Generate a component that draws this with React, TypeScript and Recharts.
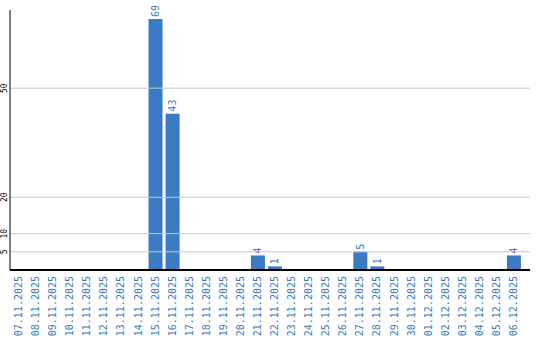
import { BarChart, Bar, XAxis, YAxis, ReferenceLine, LabelList } from "recharts";

const dates = [
  "07.11.2025", "08.11.2025", "09.11.2025", "10.11.2025", "11.11.2025",
  "12.11.2025", "13.11.2025", "14.11.2025", "15.11.2025", "16.11.2025",
  "17.11.2025", "18.11.2025", "19.11.2025", "20.11.2025", "21.11.2025",
  "22.11.2025", "23.11.2025", "24.11.2025", "25.11.2025", "26.11.2025",
  "27.11.2025", "28.11.2025", "29.11.2025", "30.11.2025", "01.12.2025",
  "02.12.2025", "03.12.2025", "04.12.2025", "05.12.2025", "06.12.2025",
];
const counts = [
  0, 0, 0, 0, 0, 0, 0, 0, 69, 43,
  0, 0, 0, 0, 4, 1, 0, 0, 0, 0,
  5, 1, 0, 0, 0, 0, 0, 0, 0, 4,
];
const yTicks = [5, 10, 20, 50];

const data = dates.map((d, i) => ({ date: d, count: counts[i] }));

const BLUE = "#3a7bc3";
const MONO = "'DejaVu Sans Mono', monospace";

function DateTick(props: any) {
  const { x, payload } = props;
  const ty = 276;
  return (
    <text
      x={x}
      y={ty}
      dy="0.35em"
      textAnchor="end"
      transform={`rotate(-90, ${x}, ${ty})`}
      fill={BLUE}
      fontSize={10}
      fontFamily={MONO}
    >
      {payload.value}
    </text>
  );
}

function CountTick(props: any) {
  const { y, payload } = props;
  return (
    <text
      x={7.5}
      y={y}
      textAnchor="middle"
      transform={`rotate(-90, 7.5, ${y})`}
      fill="#000"
      fontSize={8}
      fontFamily={MONO}
    >
      {payload.value}
    </text>
  );
}

function ValueLabel(props: any) {
  const { x, y, width, value } = props;
  if (!value) return null;
  const cx = x + width / 2;
  const cy = y - 2;
  return (
    <text
      x={cx}
      y={cy}
      dy="0.35em"
      textAnchor="start"
      transform={`rotate(-90, ${cx}, ${cy})`}
      fill={BLUE}
      fontSize={10}
      fontFamily={MONO}
    >
      {value}
    </text>
  );
}

export default function App() {
  return (
    <div style={{ position: "absolute", left: 0, top: 0, width: 540, height: 340 }}>
      <BarChart
        width={540}
        height={340}
        data={data}
        margin={{ top: 10, right: 10, bottom: 0, left: 0 }}
      >
        {yTicks.map((t) => (
          <ReferenceLine key={t} y={t} stroke="#c8c8c8" />
        ))}
        <XAxis
          dataKey="date"
          height={70}
          interval={0}
          tickLine={false}
          axisLine={{ stroke: "#000", strokeWidth: 2 }}
          padding={{ left: 0, right: 8 }}
          tick={<DateTick />}
        />
        <YAxis
          width={10}
          domain={[0, 71.5]}
          ticks={yTicks}
          interval={0}
          tickLine={false}
          axisLine={{ stroke: "#000" }}
          tick={<CountTick />}
        />
        <Bar dataKey="count" fill={BLUE} barSize={14} isAnimationActive={false}>
          <LabelList dataKey="count" content={<ValueLabel />} />
        </Bar>
      </BarChart>
    </div>
  );
}
